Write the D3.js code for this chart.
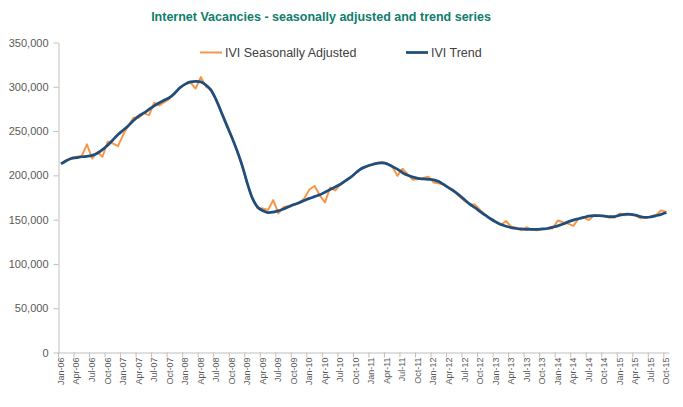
<!DOCTYPE html>
<html>
<head>
<meta charset="utf-8">
<script src="https://cdn.jsdelivr.net/npm/d3@7"></script>
<style>
body { margin: 0; background: #fff; }
text { font-family: "Liberation Sans", Arial, sans-serif; }
.axis path, .axis line { stroke: #bfbfbf; }
.axis text { fill: #595959; }
</style>
</head>
<body>
<div id="chart"></div>
<script>
// monthly categories Jan-06 .. Oct-15
var months = d3.timeMonths(new Date(2006, 0, 1), new Date(2015, 10, 1));
var categories = months.map(d3.timeFormat("%b-%y"));
var tickLabels = categories.filter(function (d, i) { return i % 3 === 0; });
var yTicks = [0, 50000, 100000, 150000, 200000, 250000, 300000, 350000];
var seriesNames = ["IVI Seasonally Adjusted", "IVI Trend"];

var seasAdj = [
  213000, 217000, 220000, 221000, 222000, 235000, 219000, 226000, 221000, 238000, 236000, 233000,
  246000, 256000, 265000, 265000, 270000, 268000, 282000, 279000, 283000, 287000, 293000, 299000,
  303000, 305000, 298000, 311000, 300000, 297000, 285000, 270000, 256000, 243000, 228000, 211000,
  190000, 173000, 163000, 162500, 161000, 172000, 157000, 164000, 165500, 166500, 169000, 174000,
  184000, 188000, 177500, 169500, 186000, 183000, 190000, 194000, 198000, 203000, 207500, 210000,
  212000, 214000, 215000, 213500, 210000, 199500, 207500, 201000, 195000, 196000, 197000, 198500,
  192000, 191000, 189500, 186000, 182000, 176000, 171000, 167500, 167000, 161000, 155500, 151000,
  147500, 144000, 148500, 142000, 141000, 138000, 141500, 138500, 138000, 139000, 140000, 140000,
  149000, 147000, 145500, 143000, 151000, 152500, 149500, 155000, 154000, 154000, 152000, 152500,
  157000, 155000, 156000, 155000, 151500, 152000, 154000, 155000, 160500, 158500
];

var trend = [
  213000, 216500, 219000, 220000, 221000, 221500, 222500, 225000, 229000, 234000, 240000, 246000,
  251000, 256000, 262000, 267000, 270500, 274500, 278500, 282000, 285000, 288000, 293000, 299000,
  303000, 305500, 306000, 305500, 302000, 296000, 285000, 271000, 257000, 243000, 228000, 211000,
  191000, 174000, 164000, 160000, 158000, 158500, 160000, 162000, 164500, 167000, 169000, 171500,
  174000, 176000, 178000, 181000, 184000, 187000, 190000, 194000, 198000, 203000, 207500, 210000,
  212000, 213500, 214000, 213000, 210000, 207000, 203000, 200000, 198000, 196500, 196000, 195500,
  195000, 193000, 189500, 185500, 182000, 177500, 172500, 167500, 163500, 159000, 155000, 151000,
  147500, 144500, 142500, 141000, 140000, 139500, 139000, 139000, 139000, 139500, 140000, 141500,
  143000, 145000, 147500, 149500, 151000, 152500, 154000, 154500, 154500, 154000, 153500, 153500,
  155000, 156000, 156000, 155000, 153500, 152500, 153000, 154500, 156000, 158000
];

var colors = ["#f79646", "#1f4e7d"];

var W = 683, H = 407;
var svg = d3.select("#chart").append("svg")
    .attr("width", W)
    .attr("height", H);

var x = d3.scaleBand()
    .domain(categories)
    .range([58.5, 669])
    .padding(0);
var bw = x.bandwidth();

var y = d3.scaleLinear()
    .domain([0, 350000])
    .range([352.5, 42.5]);

// title
svg.append("text")
    .attr("x", 321)
    .attr("y", 21)
    .attr("text-anchor", "middle")
    .style("font-weight", "bold")
    .style("font-size", "12.5px")
    .style("fill", "#0f7d6c")
    .text("Internet Vacancies - seasonally adjusted and trend series");

// y axis
var yAxis = svg.append("g")
    .attr("class", "axis y")
    .attr("transform", "translate(58.5,0)")
    .call(d3.axisLeft(y)
        .tickValues(yTicks)
        .tickFormat(d3.format(","))
        .tickSize(5)
        .tickSizeOuter(0)
        .tickPadding(5));
yAxis.selectAll("text").style("font-size", "11px");

// x axis, ticks sit between categories
var xAxis = svg.append("g")
    .attr("class", "axis x")
    .attr("transform", "translate(0,352.5)")
    .call(d3.axisBottom(x)
        .tickValues(tickLabels)
        .tickSize(5)
        .tickSizeOuter(0));
xAxis.selectAll(".tick line")
    .attr("x1", -bw / 2)
    .attr("x2", -bw / 2);
xAxis.selectAll("text")
    .style("font-size", "9px")
    .attr("text-anchor", "end")
    .attr("transform", "rotate(-90)")
    .attr("x", -5)
    .attr("y", 0)
    .attr("dy", "0.32em");

function cx(d, i) { return x(categories[i]) + bw / 2; }

// seasonally adjusted
svg.append("path")
    .datum(seasAdj)
    .attr("fill", "none")
    .attr("stroke", colors[0])
    .attr("stroke-width", 2)
    .attr("stroke-linejoin", "round")
    .attr("d", d3.line()
        .x(cx)
        .y(function (d) { return y(d); }));

// trend, smoothed like the Excel line
svg.append("path")
    .datum(trend)
    .attr("fill", "none")
    .attr("stroke", colors[1])
    .attr("stroke-width", 2.75)
    .attr("stroke-linejoin", "round")
    .attr("d", d3.line()
        .curve(d3.curveCatmullRom)
        .x(cx)
        .y(function (d) { return y(d); }));

// legend
var legendX = [200, 406];
var legend = svg.selectAll(".legend")
    .data(seriesNames)
    .enter().append("g")
    .attr("class", "legend")
    .attr("transform", function (d, i) { return "translate(" + legendX[i] + ",52.5)"; });
legend.append("line")
    .attr("x1", 0).attr("x2", 22)
    .attr("stroke", function (d, i) { return colors[i]; })
    .attr("stroke-width", function (d, i) { return i ? 2.75 : 2; });
legend.append("text")
    .attr("x", 25)
    .attr("dy", "0.35em")
    .style("font-size", "12.5px")
    .style("fill", "#404040")
    .text(function (d) { return d; });
</script>
</body>
</html>
